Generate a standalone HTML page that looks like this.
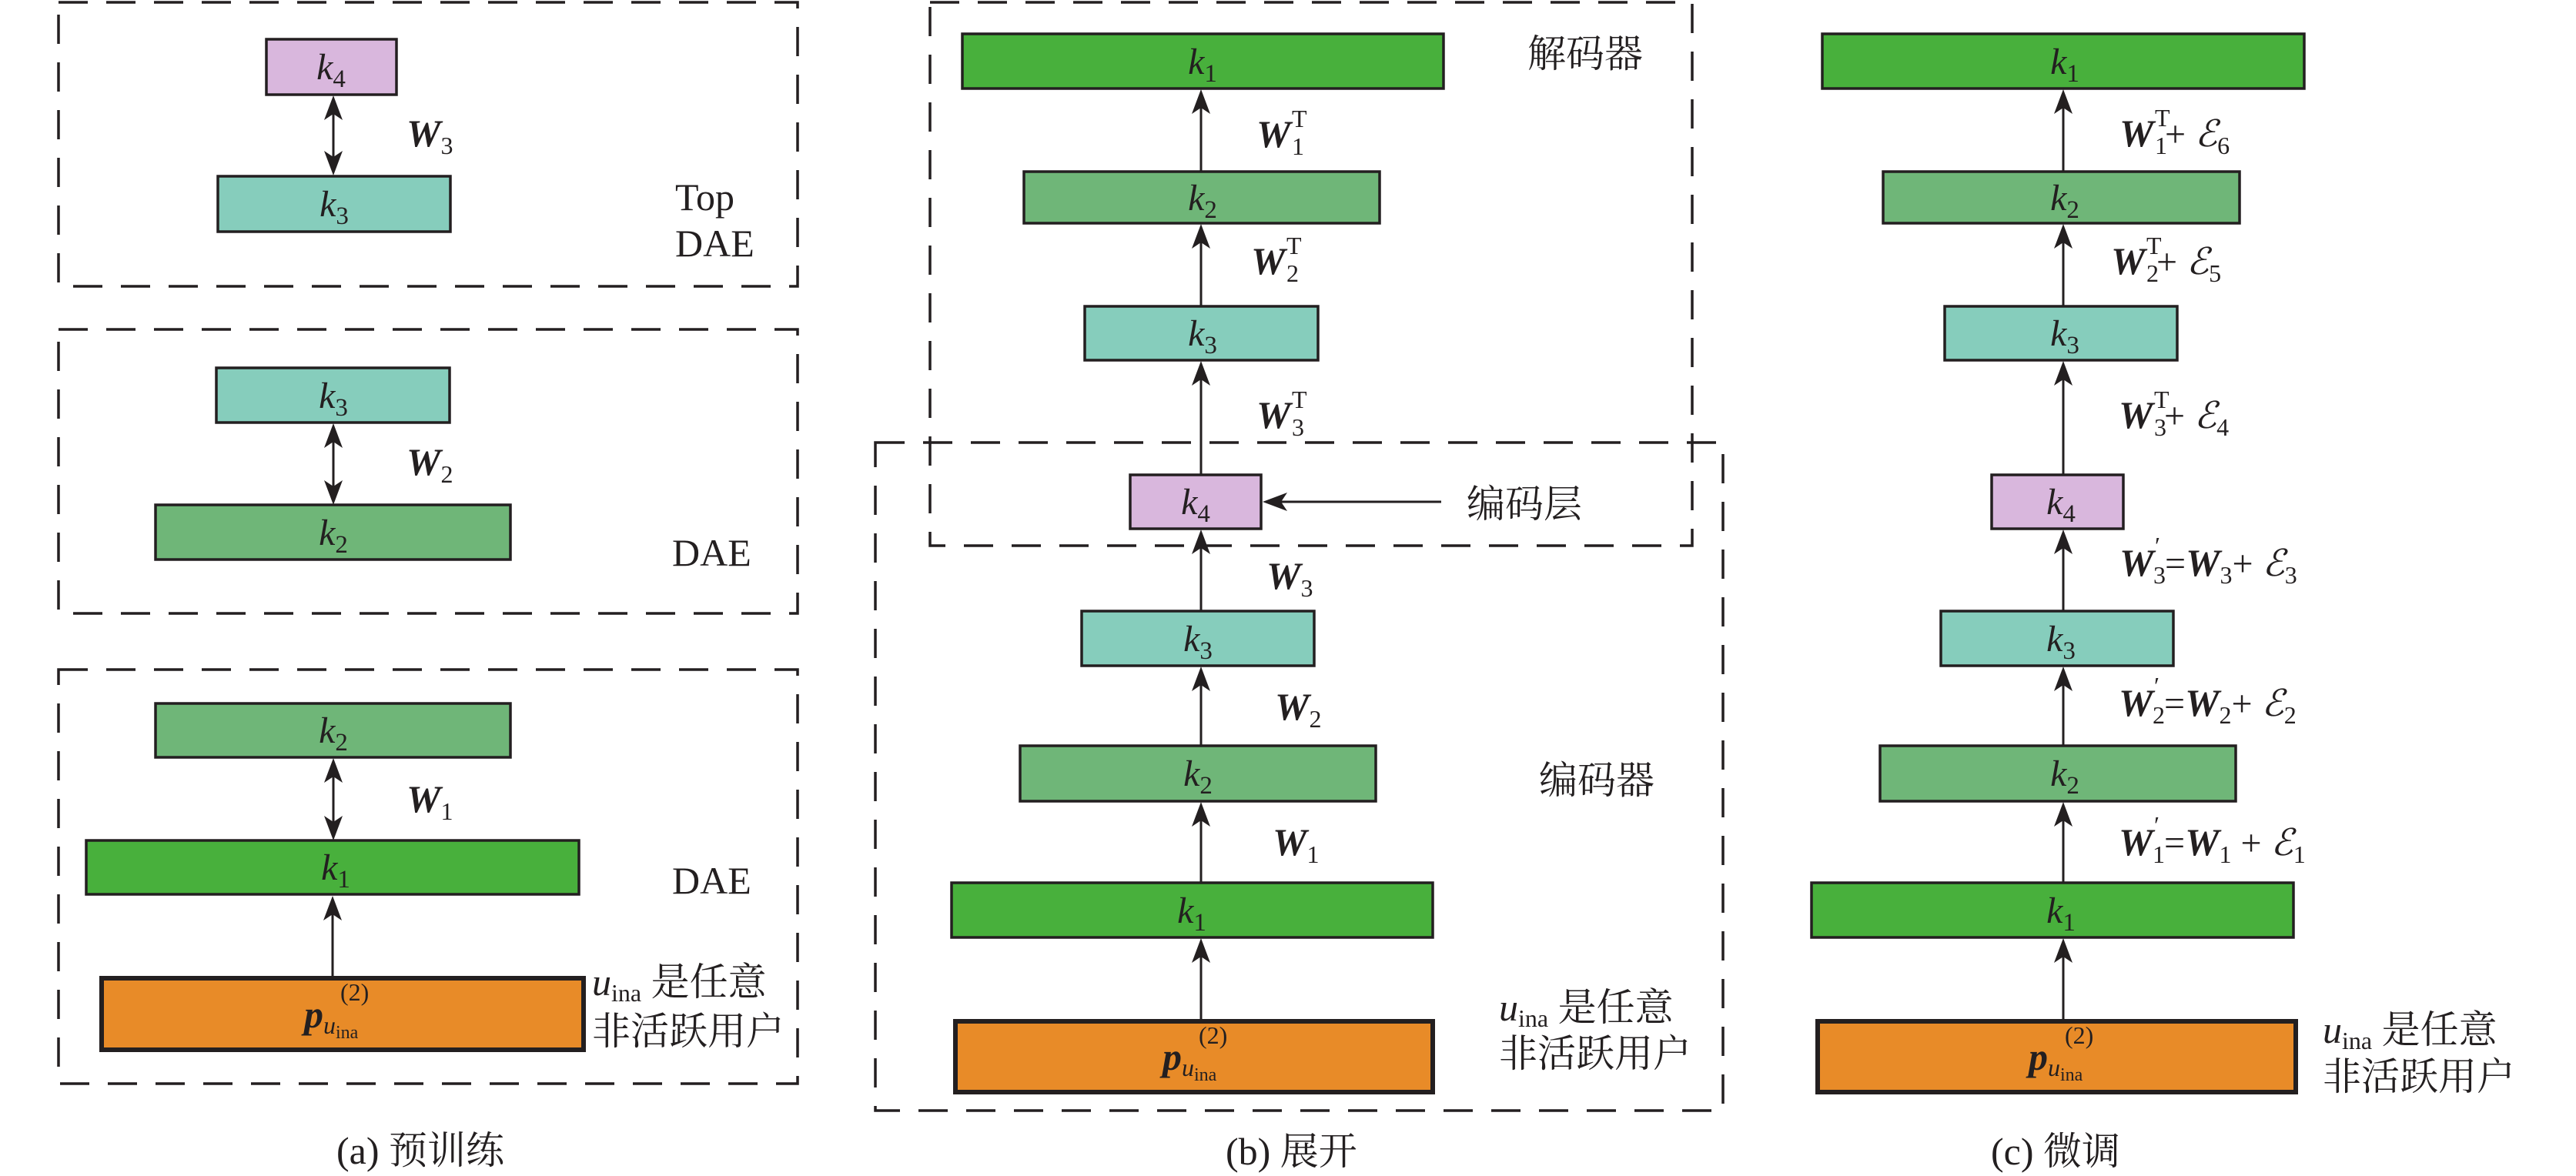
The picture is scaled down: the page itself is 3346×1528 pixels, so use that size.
<!DOCTYPE html>
<html><head><meta charset="utf-8">
<style>
html,body{margin:0;padding:0;background:#fff;font-family:"Liberation Serif","Times New Roman","DejaVu Serif",serif;}
svg{display:block;}
svg text, svg tspan{font-family:"Liberation Serif","Times New Roman","DejaVu Serif","Noto Serif CJK SC",serif;}
text{fill:#231f20;}
.k{font-size:48px;font-style:italic;}
.ks{font-size:33px;font-style:normal;}
.bi{font-size:50px;font-style:italic;font-weight:bold;}
.m{font-size:48px;}
.s{font-size:32px;font-style:normal;font-weight:normal;}
.si{font-size:32px;font-style:italic;font-weight:normal;}
.ep{font-style:italic;}
svg .cn, svg .cn tspan{font-family:"Liberation Serif","Noto Serif CJK SC","Noto Sans CJK SC",serif;font-size:50px;}
.lat{font-size:50px;}
.box{stroke:#231f20;stroke-width:3.5;}
.dash{fill:none;stroke:#231f20;stroke-width:3.5;stroke-dasharray:38 24;}
.ln{stroke:#231f20;stroke-width:3;}
.c1{fill:#48B03C}.c2{fill:#6FB678}.c3{fill:#86CDBC}.c4{fill:#D9B7DD}.co{fill:#E88B28;stroke:#231f20;stroke-width:6;}
</style></head><body>
<svg width="3346" height="1528" viewBox="0 0 3346 1528" xmlns="http://www.w3.org/2000/svg" font-family="Liberation Serif, Times New Roman, DejaVu Serif, serif">
<defs>
<g id="hu"><polygon points="0,0 -12,32 0,24 12,32" fill="#231f20"/></g>
<g id="hd"><polygon points="0,0 -12,-32 0,-24 12,-32" fill="#231f20"/></g>
</defs>

<!-- ============ Panel A ============ -->
<rect class="dash" x="76" y="3" width="960" height="369"/>
<rect class="dash" x="76" y="428" width="960" height="369"/>
<rect class="dash" x="76" y="870" width="960" height="538"/>

<rect class="box c4" x="346" y="51" width="169" height="72"/>
<text class="k" x="430" y="103" text-anchor="middle">k<tspan class="ks" dy="10">4</tspan></text>
<rect class="box c3" x="283" y="229" width="302" height="72"/>
<text class="k" x="434" y="281" text-anchor="middle">k<tspan class="ks" dy="10">3</tspan></text>
<line class="ln" x1="433" y1="140" x2="433" y2="212"/>
<use href="#hu" x="433" y="124"/><use href="#hd" x="433" y="228"/>
<text class="m" x="528" y="190"><tspan class="bi">W</tspan><tspan class="s" dy="10">3</tspan></text>
<text class="lat" x="877" y="273">Top</text>
<text class="lat" x="877" y="333">DAE</text>

<rect class="box c3" x="281" y="478" width="303" height="71"/>
<text class="k" x="433" y="530" text-anchor="middle">k<tspan class="ks" dy="10">3</tspan></text>
<rect class="box c2" x="202" y="656" width="461" height="71"/>
<text class="k" x="433" y="708" text-anchor="middle">k<tspan class="ks" dy="10">2</tspan></text>
<line class="ln" x1="433" y1="566" x2="433" y2="640"/>
<use href="#hu" x="433" y="550"/><use href="#hd" x="433" y="656"/>
<text class="m" x="528" y="617"><tspan class="bi">W</tspan><tspan class="s" dy="10">2</tspan></text>
<text class="lat" x="873" y="735">DAE</text>

<rect class="box c2" x="202" y="914" width="461" height="70"/>
<text class="k" x="433" y="965" text-anchor="middle">k<tspan class="ks" dy="10">2</tspan></text>
<rect class="box c1" x="112" y="1092" width="640" height="70"/>
<text class="k" x="436" y="1143" text-anchor="middle">k<tspan class="ks" dy="10">1</tspan></text>
<line class="ln" x1="433" y1="1001" x2="433" y2="1076"/>
<use href="#hu" x="433" y="985"/><use href="#hd" x="433" y="1092"/>
<text class="m" x="528" y="1055"><tspan class="bi">W</tspan><tspan class="s" dy="10">1</tspan></text>
<text class="lat" x="873" y="1161">DAE</text>

<rect class="co" x="132" y="1271" width="626" height="93"/>
<line class="ln" x1="432" y1="1271" x2="432" y2="1185"/>
<use href="#hu" x="432" y="1164"/>
<text x="395" y="1335"><tspan class="bi">p</tspan><tspan class="si" dy="8">u</tspan><tspan class="s" dy="6" style="font-size:24px">ina</tspan></text>
<text class="s" x="442" y="1300">(2)</text>
<text class="cn" x="769" y="1293"><tspan style="font-style:italic">u</tspan><tspan style="font-size:32px" dy="8">ina</tspan><tspan dy="-8"> 是任意</tspan></text>
<text class="cn" x="769" y="1357">非活跃用户</text>
<text class="cn" x="437" y="1512">(a)  预训练</text>

<!-- ============ Panel B ============ -->
<rect class="dash" x="1208" y="3" width="990" height="706"/>
<rect class="dash" x="1137" y="575" width="1101" height="868"/>

<rect class="box c1" x="1250" y="44" width="625" height="71"/>
<text class="k" x="1562" y="96" text-anchor="middle">k<tspan class="ks" dy="10">1</tspan></text>
<rect class="box c2" x="1330" y="223" width="462" height="67"/>
<text class="k" x="1562" y="273" text-anchor="middle">k<tspan class="ks" dy="10">2</tspan></text>
<rect class="box c3" x="1409" y="398" width="303" height="70"/>
<text class="k" x="1562" y="449" text-anchor="middle">k<tspan class="ks" dy="10">3</tspan></text>
<rect class="box c4" x="1468" y="617" width="170" height="70"/>
<text class="k" x="1553" y="668" text-anchor="middle">k<tspan class="ks" dy="10">4</tspan></text>
<rect class="box c3" x="1405" y="794" width="302" height="71"/>
<text class="k" x="1556" y="846" text-anchor="middle">k<tspan class="ks" dy="10">3</tspan></text>
<rect class="box c2" x="1325" y="969" width="462" height="72"/>
<text class="k" x="1556" y="1021" text-anchor="middle">k<tspan class="ks" dy="10">2</tspan></text>
<rect class="box c1" x="1236" y="1147" width="625" height="71"/>
<text class="k" x="1548" y="1199" text-anchor="middle">k<tspan class="ks" dy="10">1</tspan></text>
<rect class="co" x="1241" y="1327" width="620" height="92"/>
<text x="1510" y="1390"><tspan class="bi">p</tspan><tspan class="si" dy="8">u</tspan><tspan class="s" dy="6" style="font-size:24px">ina</tspan></text>
<text class="s" x="1557" y="1356">(2)</text>

<line class="ln" x1="1560" y1="223" x2="1560" y2="135"/><use href="#hu" x="1560" y="116"/>
<line class="ln" x1="1560" y1="398" x2="1560" y2="310"/><use href="#hu" x="1560" y="291"/>
<line class="ln" x1="1560" y1="617" x2="1560" y2="488"/><use href="#hu" x="1560" y="469"/>
<line class="ln" x1="1560" y1="794" x2="1560" y2="707"/><use href="#hu" x="1560" y="688"/>
<line class="ln" x1="1560" y1="969" x2="1560" y2="885"/><use href="#hu" x="1560" y="866"/>
<line class="ln" x1="1560" y1="1147" x2="1560" y2="1061"/><use href="#hu" x="1560" y="1042"/>
<line class="ln" x1="1560" y1="1327" x2="1560" y2="1238"/><use href="#hu" x="1560" y="1219"/>
<line class="ln" x1="1872" y1="652" x2="1660" y2="652"/>
<polygon points="1640,652 1672,640 1664,652 1672,664" fill="#231f20"/>

<text class="m" x="1632" y="191"><tspan class="bi">W</tspan><tspan class="s" x="1678" dy="10">1</tspan><tspan class="s" x="1678" dy="-36">T</tspan></text>
<text class="m" x="1625" y="356"><tspan class="bi">W</tspan><tspan class="s" x="1671" dy="10">2</tspan><tspan class="s" x="1671" dy="-36">T</tspan></text>
<text class="m" x="1632" y="556"><tspan class="bi">W</tspan><tspan class="s" x="1678" dy="10">3</tspan><tspan class="s" x="1678" dy="-36">T</tspan></text>
<text class="m" x="1645" y="765"><tspan class="bi">W</tspan><tspan class="s" dy="10">3</tspan></text>
<text class="m" x="1656" y="935"><tspan class="bi">W</tspan><tspan class="s" dy="10">2</tspan></text>
<text class="m" x="1653" y="1111"><tspan class="bi">W</tspan><tspan class="s" dy="10">1</tspan></text>

<text class="cn" x="1984" y="87">解码器</text>
<text class="cn" x="1905" y="672">编码层</text>
<text class="cn" x="1999" y="1031">编码器</text>
<text class="cn" x="1947" y="1326"><tspan style="font-style:italic">u</tspan><tspan style="font-size:32px" dy="8">ina</tspan><tspan dy="-8"> 是任意</tspan></text>
<text class="cn" x="1947" y="1386">非活跃用户</text>
<text class="cn" x="1592" y="1513">(b)  展开</text>

<!-- ============ Panel C ============ -->
<rect class="box c1" x="2367" y="44" width="626" height="71"/>
<text class="k" x="2682" y="96" text-anchor="middle">k<tspan class="ks" dy="10">1</tspan></text>
<rect class="box c2" x="2446" y="223" width="463" height="67"/>
<text class="k" x="2682" y="273" text-anchor="middle">k<tspan class="ks" dy="10">2</tspan></text>
<rect class="box c3" x="2526" y="398" width="302" height="70"/>
<text class="k" x="2682" y="449" text-anchor="middle">k<tspan class="ks" dy="10">3</tspan></text>
<rect class="box c4" x="2587" y="617" width="171" height="70"/>
<text class="k" x="2677" y="668" text-anchor="middle">k<tspan class="ks" dy="10">4</tspan></text>
<rect class="box c3" x="2521" y="794" width="302" height="71"/>
<text class="k" x="2677" y="846" text-anchor="middle">k<tspan class="ks" dy="10">3</tspan></text>
<rect class="box c2" x="2442" y="969" width="462" height="72"/>
<text class="k" x="2682" y="1021" text-anchor="middle">k<tspan class="ks" dy="10">2</tspan></text>
<rect class="box c1" x="2353" y="1147" width="626" height="71"/>
<text class="k" x="2677" y="1199" text-anchor="middle">k<tspan class="ks" dy="10">1</tspan></text>
<rect class="co" x="2361" y="1327" width="621" height="92"/>
<text x="2635" y="1390"><tspan class="bi">p</tspan><tspan class="si" dy="8">u</tspan><tspan class="s" dy="6" style="font-size:24px">ina</tspan></text>
<text class="s" x="2682" y="1356">(2)</text>

<line class="ln" x1="2680" y1="223" x2="2680" y2="135"/><use href="#hu" x="2680" y="116"/>
<line class="ln" x1="2680" y1="398" x2="2680" y2="310"/><use href="#hu" x="2680" y="291"/>
<line class="ln" x1="2680" y1="617" x2="2680" y2="488"/><use href="#hu" x="2680" y="469"/>
<line class="ln" x1="2680" y1="794" x2="2680" y2="707"/><use href="#hu" x="2680" y="688"/>
<line class="ln" x1="2680" y1="969" x2="2680" y2="885"/><use href="#hu" x="2680" y="866"/>
<line class="ln" x1="2680" y1="1147" x2="2680" y2="1061"/><use href="#hu" x="2680" y="1042"/>
<line class="ln" x1="2680" y1="1327" x2="2680" y2="1238"/><use href="#hu" x="2680" y="1219"/>

<text class="m" x="2753" y="190"><tspan class="bi">W</tspan><tspan class="s" x="2799" dy="10">1</tspan><tspan class="s" x="2799" dy="-36">T</tspan><tspan x="2812" dy="26">+ </tspan><tspan class="ep">ℰ</tspan><tspan class="s" dy="10">6</tspan></text>
<text class="m" x="2742" y="356"><tspan class="bi">W</tspan><tspan class="s" x="2788" dy="10">2</tspan><tspan class="s" x="2788" dy="-36">T</tspan><tspan x="2801" dy="26">+ </tspan><tspan class="ep">ℰ</tspan><tspan class="s" dy="10">5</tspan></text>
<text class="m" x="2752" y="556"><tspan class="bi">W</tspan><tspan class="s" x="2798" dy="10">3</tspan><tspan class="s" x="2798" dy="-36">T</tspan><tspan x="2811" dy="26">+ </tspan><tspan class="ep">ℰ</tspan><tspan class="s" dy="10">4</tspan></text>
<text class="m" x="2753" y="748"><tspan class="bi">W</tspan><tspan class="s" x="2797" dy="10">3</tspan><tspan class="s" x="2799" dy="-38">′</tspan><tspan x="2812" dy="28">=</tspan><tspan class="bi">W</tspan><tspan class="s" dy="10">3</tspan><tspan dy="-10">+ </tspan><tspan class="ep">ℰ</tspan><tspan class="s" dy="10">3</tspan></text>
<text class="m" x="2752" y="930"><tspan class="bi">W</tspan><tspan class="s" x="2796" dy="10">2</tspan><tspan class="s" x="2798" dy="-38">′</tspan><tspan x="2811" dy="28">=</tspan><tspan class="bi">W</tspan><tspan class="s" dy="10">2</tspan><tspan dy="-10">+ </tspan><tspan class="ep">ℰ</tspan><tspan class="s" dy="10">2</tspan></text>
<text class="m" x="2752" y="1111"><tspan class="bi">W</tspan><tspan class="s" x="2796" dy="10">1</tspan><tspan class="s" x="2798" dy="-38">′</tspan><tspan x="2811" dy="28">=</tspan><tspan class="bi">W</tspan><tspan class="s" dy="10">1</tspan><tspan dy="-10">  + </tspan><tspan class="ep">ℰ</tspan><tspan class="s" dy="10">1</tspan></text>

<text class="cn" x="3017" y="1355"><tspan style="font-style:italic">u</tspan><tspan style="font-size:32px" dy="8">ina</tspan><tspan dy="-8"> 是任意</tspan></text>
<text class="cn" x="3017" y="1416">非活跃用户</text>
<text class="cn" x="2586" y="1513">(c)  微调</text>
</svg>
</body></html>
